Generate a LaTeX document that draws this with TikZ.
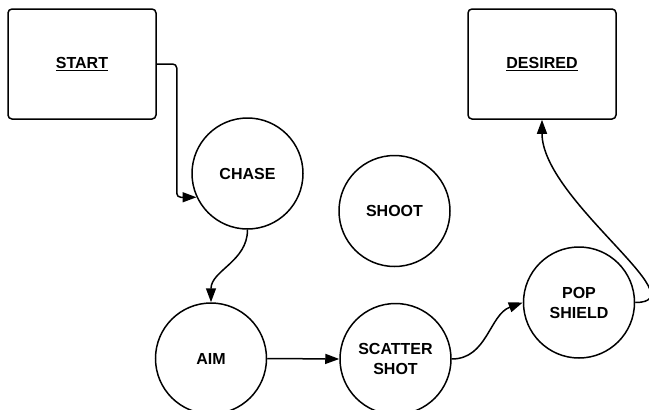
\documentclass[tikz,border=0pt]{standalone}
\usepackage{fontspec}
\setmainfont{Liberation Sans}
\usetikzlibrary{arrows.meta}
\begin{document}
\begin{tikzpicture}[x=1pt,y=1pt,
  box/.style={draw, line width=1.5pt, rounded corners=4pt, minimum width=148pt, minimum height=110pt, inner sep=0pt,
    font=\bfseries\fontsize{16}{20}\selectfont},
  state/.style={draw, circle, line width=1.5pt, minimum size=111pt, inner sep=0pt, align=center,
    font=\bfseries\fontsize{16}{20}\selectfont},
  arr/.style={line width=1.5pt, -{Triangle[length=14pt,width=10pt]}}]
\useasboundingbox (0,0) rectangle (649,-410);
\node[box] (start) at (82,-64) {\underline{START}};
\node[box] (desired) at (542,-64) {\underline{DESIRED}};
\node[state] (chase) at (247.5,-173.5) {CHASE};
\node[state] (shoot) at (394.5,-211) {SHOOT};
\node[state] (aim) at (211,-358.5) {AIM};
\node[state] (scatter) at (395.5,-359) {SCATTER\\SHOT};
\node[state] (pop) at (579,-302.5) {POP\\SHIELD};
\draw[arr, rounded corners=4pt] (start.east) -- ++(20,0) |- (chase.205);
\draw[arr] (chase.south) to[out=-90,in=90] (aim.north);
\draw[arr] (aim.east) -- (scatter.west);
\draw[arr] (scatter.east) to[out=0,in=200] (pop.west);
\draw[arr] (pop.east) .. controls +(65,0) and +(0,-80) .. (desired.south);
\end{tikzpicture}
\end{document}
